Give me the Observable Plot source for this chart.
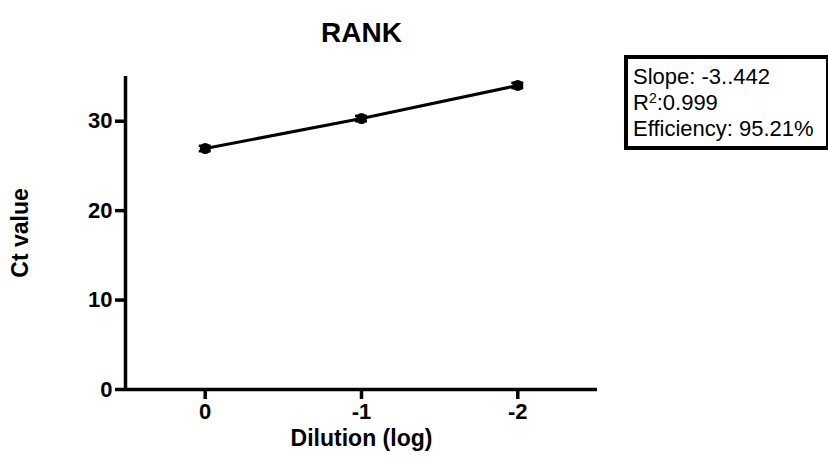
<!DOCTYPE html>
<html>
<head>
<meta charset="utf-8">
<script src="https://cdn.jsdelivr.net/npm/d3@7"></script>
<script src="https://cdn.jsdelivr.net/npm/@observablehq/plot@0.6"></script>
<style>
  html, body { margin: 0; padding: 0; background: #fff; }
  #wrap { position: relative; width: 828px; height: 468px; overflow: hidden; font-family: "Liberation Sans", Arial, sans-serif; }
  #legend {
    position: absolute; left: 624px; top: 55px; width: 206px; height: 95px;
    box-sizing: border-box; border: 4px solid #000; background: #fff;
    padding: 5px 0 0 5px; font-size: 22px; line-height: 26px; color: #000;
    white-space: nowrap;
  }
  #legend div { height: 26px; overflow: visible; }
  #legend sup { font-size: 14px; line-height: 0; vertical-align: 7px; }
</style>
</head>
<body>
<div id="wrap"></div>
<script>
const title = "RANK";
const xLabel = "Dilution (log)";
const yLabel = "Ct value";
const dilutions = [0, -1, -2];
const ctMeans = [26.95, 30.3, 34.0];
const ctSD = [0.3, 0.3, 0.3];
const xTicks = [0, -1, -2];
const yTicks = [0, 10, 20, 30];
const xDomain = [0.51, -2.51];
const yDomain = [0, 35];
const legendLines = ["Slope: -3..442", "R<sup>2</sup>:0.999", "Efficiency: 95.21%"];

const data = dilutions.map((d, i) => ({x: d, y: ctMeans[i], lo: ctMeans[i] - ctSD[i], hi: ctMeans[i] + ctSD[i]}));
const font = "Liberation Sans, Arial, sans-serif";

const chart = Plot.plot({
  width: 828,
  height: 468,
  marginLeft: 125,
  marginRight: 231,
  marginTop: 76,
  marginBottom: 79,
  style: {fontFamily: font, background: "#fff", color: "#000", overflow: "visible"},
  x: {type: "linear", domain: xDomain},
  y: {type: "linear", domain: yDomain},
  marks: [
    Plot.axisY({ticks: yTicks, tickSize: 10, tickPadding: 3, strokeWidth: 3.5, fontSize: 22, fontWeight: "bold", label: null, fill: "#000"}),
    Plot.axisX({ticks: xTicks, tickSize: 10, tickPadding: 4, strokeWidth: 3.5, fontSize: 22, fontWeight: "bold", label: null, tickFormat: d => String(d), fill: "#000"}),
    Plot.ruleX([xDomain[0]], {y1: yDomain[0], y2: yDomain[1], strokeWidth: 3.5, stroke: "#000"}),
    Plot.ruleY([yDomain[0]], {strokeWidth: 3.5, stroke: "#000"}),
    Plot.line(data, {x: "x", y: "y", strokeWidth: 3, stroke: "#000"}),
    Plot.ruleX(data, {x: "x", y1: "lo", y2: "hi", strokeWidth: 2.5, stroke: "#000"}),
    Plot.ruleY(data, {y: "lo", x1: "x", x2: "x", insetLeft: -6, insetRight: -6, strokeWidth: 2.5, stroke: "#000"}),
    Plot.ruleY(data, {y: "hi", x1: "x", x2: "x", insetLeft: -6, insetRight: -6, strokeWidth: 2.5, stroke: "#000"}),
    Plot.dot(data, {x: "x", y: "y", r: 5.5, fill: "#000", stroke: "none"}),
    Plot.text([title], {frameAnchor: "top", dy: -43, fontSize: 28, fontWeight: "bold", fill: "#000", lineAnchor: "middle", textAnchor: "middle"}),
    Plot.text([xLabel], {frameAnchor: "bottom", dy: 49, fontSize: 23, fontWeight: "bold", fill: "#000", lineAnchor: "middle", textAnchor: "middle"}),
    Plot.text([yLabel], {frameAnchor: "left", dx: -105, dy: 0, rotate: -90, fontSize: 23, fontWeight: "bold", fill: "#000", lineAnchor: "middle", textAnchor: "middle"})
  ]
});

const wrap = document.getElementById("wrap");
wrap.appendChild(chart);
const legend = document.createElement("div");
legend.id = "legend";
legend.innerHTML = legendLines.map(l => `<div>${l}</div>`).join("");
wrap.appendChild(legend);
</script>
</body>
</html>
